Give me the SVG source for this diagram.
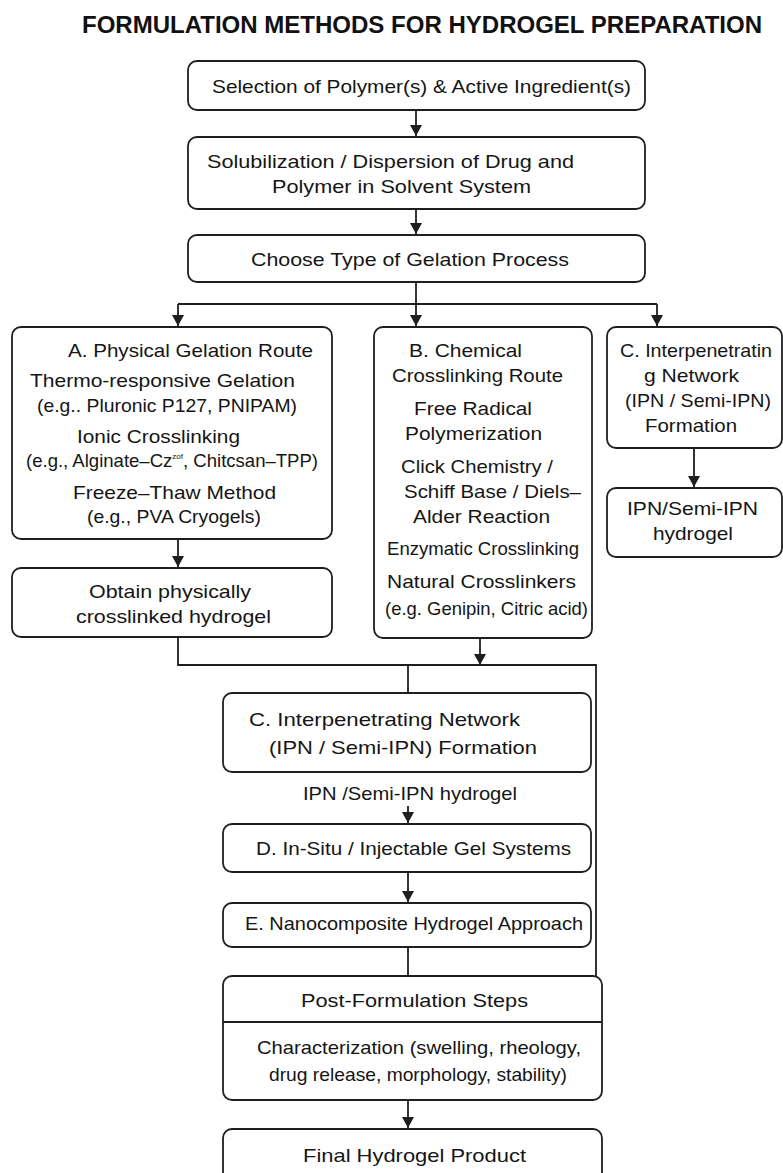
<svg xmlns="http://www.w3.org/2000/svg" width="783" height="1173" viewBox="0 0 783 1173">
<style>
.bg{fill:#ffffff}
.box{fill:#ffffff;stroke:#1e1e1e;stroke-width:1.8}
.t{font-family:"Liberation Sans",Arial,sans-serif;font-size:18.5px;fill:#151515}
.tb{font-family:"Liberation Sans",Arial,sans-serif;font-size:24px;font-weight:bold;fill:#111}
.c{fill:none;stroke:#1e1e1e;stroke-width:1.8}
</style>
<defs>
<marker id="ah" markerUnits="userSpaceOnUse" markerWidth="12" markerHeight="12" refX="11" refY="6" orient="auto">
<path d="M0,0 L11,6 L0,12 z" fill="#1e1e1e"/>
</marker>
</defs>
<rect class="bg" x="0" y="0" width="783" height="1173"/>
<text class="tb" x="82" y="33" textLength="680" lengthAdjust="spacingAndGlyphs">FORMULATION METHODS FOR HYDROGEL PREPARATION</text>

<g id="connectors">
<path class="c" d="M416 110 V136" marker-end="url(#ah)"/>
<path class="c" d="M416 209 V234" marker-end="url(#ah)"/>
<path class="c" d="M416 282 V304 M178 304 H657"/>
<path class="c" d="M178 304 V326" marker-end="url(#ah)"/>
<path class="c" d="M416 304 V326" marker-end="url(#ah)"/>
<path class="c" d="M657 304 V326" marker-end="url(#ah)"/>
<path class="c" d="M178 539 V567" marker-end="url(#ah)"/>
<path class="c" d="M694 448 V487" marker-end="url(#ah)"/>
<path class="c" d="M178 637 V665 H596 V976"/>
<path class="c" d="M480 638 V665" marker-end="url(#ah)"/>
<path class="c" d="M408 665 V693"/>
<path class="c" d="M408 806 V823" marker-end="url(#ah)"/>
<path class="c" d="M408 872 V902" marker-end="url(#ah)"/>
<path class="c" d="M408 947 V976"/>
<path class="c" d="M408 1100 V1128" marker-end="url(#ah)"/>
</g>

<g id="n1">
<rect class="box" x="188" y="61" width="457" height="49" rx="9"/>
<text class="t" x="212" y="93" font-size="20" textLength="419" lengthAdjust="spacingAndGlyphs">Selection of Polymer(s) &amp; Active Ingredient(s)</text>
</g>
<g id="n2">
<rect class="box" x="188" y="137" width="457" height="72" rx="9"/>
<text class="t" x="207" y="168" font-size="20" textLength="367" lengthAdjust="spacingAndGlyphs">Solubilization / Dispersion of Drug and</text>
<text class="t" x="272" y="193" font-size="20" textLength="259" lengthAdjust="spacingAndGlyphs">Polymer in Solvent System</text>
</g>
<g id="n3">
<rect class="box" x="188" y="235" width="457" height="47" rx="9"/>
<text class="t" x="251" y="266" font-size="20" textLength="318" lengthAdjust="spacingAndGlyphs">Choose Type of Gelation Process</text>
</g>

<g id="nA">
<rect class="box" x="12" y="327" width="320" height="212" rx="9"/>
<text class="t" x="68" y="357" textLength="245" lengthAdjust="spacingAndGlyphs">A. Physical Gelation Route</text>
<text class="t" x="30" y="387" textLength="265" lengthAdjust="spacingAndGlyphs">Thermo-responsive Gelation</text>
<text class="t" x="37" y="412" textLength="260" lengthAdjust="spacingAndGlyphs">(e.g.. Pluronic P127, PNIPAM)</text>
<text class="t" x="77" y="443" textLength="163" lengthAdjust="spacingAndGlyphs">Ionic Crosslinking</text>
<text class="t" x="26" y="467" textLength="292" lengthAdjust="spacingAndGlyphs">(e.g., Alginate–Cz<tspan font-size="8" dy="-8">zof</tspan><tspan dy="8">, Chitcsan–TPP)</tspan></text>
<text class="t" x="73" y="499" textLength="203" lengthAdjust="spacingAndGlyphs">Freeze–Thaw Method</text>
<text class="t" x="87" y="523" textLength="174" lengthAdjust="spacingAndGlyphs">(e.g., PVA Cryogels)</text>
</g>
<g id="nA2">
<rect class="box" x="12" y="568" width="320" height="69" rx="9"/>
<text class="t" x="89" y="598" textLength="162" lengthAdjust="spacingAndGlyphs">Obtain physically</text>
<text class="t" x="76" y="623" textLength="195" lengthAdjust="spacingAndGlyphs">crosslinked hydrogel</text>
</g>

<g id="nB">
<rect class="box" x="374" y="327" width="218" height="311" rx="9"/>
<text class="t" x="409" y="357" textLength="113" lengthAdjust="spacingAndGlyphs">B. Chemical</text>
<text class="t" x="392" y="382" textLength="171" lengthAdjust="spacingAndGlyphs">Crosslinking Route</text>
<text class="t" x="414" y="415" textLength="118" lengthAdjust="spacingAndGlyphs">Free Radical</text>
<text class="t" x="405" y="440" textLength="137" lengthAdjust="spacingAndGlyphs">Polymerization</text>
<text class="t" x="401" y="473" textLength="152" lengthAdjust="spacingAndGlyphs">Click Chemistry /</text>
<text class="t" x="404" y="498" textLength="177" lengthAdjust="spacingAndGlyphs">Schiff Base / Diels–</text>
<text class="t" x="413" y="523" textLength="137" lengthAdjust="spacingAndGlyphs">Alder Reaction</text>
<text class="t" x="387" y="555" font-size="17.5" textLength="192" lengthAdjust="spacingAndGlyphs">Enzymatic Crosslinking</text>
<text class="t" x="387" y="588" textLength="189" lengthAdjust="spacingAndGlyphs">Natural Crosslinkers</text>
<text class="t" x="385" y="615" font-size="17.5" textLength="203" lengthAdjust="spacingAndGlyphs">(e.g. Genipin, Citric acid)</text>
</g>

<g id="nC">
<rect class="box" x="607" y="327" width="175" height="121" rx="9"/>
<text class="t" x="620" y="357" textLength="152" lengthAdjust="spacingAndGlyphs">C. Interpenetratin</text>
<text class="t" x="644" y="382" textLength="95" lengthAdjust="spacingAndGlyphs">g Network</text>
<text class="t" x="625" y="407" textLength="146" lengthAdjust="spacingAndGlyphs">(IPN / Semi-IPN)</text>
<text class="t" x="645" y="432" textLength="92" lengthAdjust="spacingAndGlyphs">Formation</text>
</g>
<g id="nC2">
<rect class="box" x="607" y="488" width="175" height="69" rx="9"/>
<text class="t" x="627" y="515" textLength="131" lengthAdjust="spacingAndGlyphs">IPN/Semi-IPN</text>
<text class="t" x="653" y="540" textLength="80" lengthAdjust="spacingAndGlyphs">hydrogel</text>
</g>

<g id="nCmid">
<rect class="box" x="223" y="693" width="368" height="79" rx="9"/>
<text class="t" x="249" y="726" font-size="19.5" textLength="271" lengthAdjust="spacingAndGlyphs">C. Interpenetrating Network</text>
<text class="t" x="269" y="754" font-size="19.5" textLength="268" lengthAdjust="spacingAndGlyphs">(IPN / Semi-IPN) Formation</text>
</g>
<g id="lblIPN">
<text class="t" x="303" y="800" font-size="17.5" textLength="214" lengthAdjust="spacingAndGlyphs">IPN /Semi-IPN hydrogel</text>
</g>
<g id="nD">
<rect class="box" x="223" y="824" width="368" height="48" rx="9"/>
<text class="t" x="256" y="855" font-size="19.5" textLength="315" lengthAdjust="spacingAndGlyphs">D. In-Situ / Injectable Gel Systems</text>
</g>
<g id="nE">
<rect class="box" x="223" y="903" width="368" height="44" rx="9"/>
<text class="t" x="245" y="930" font-size="19.5" textLength="338" lengthAdjust="spacingAndGlyphs">E. Nanocomposite Hydrogel Approach</text>
</g>
<g id="nPost">
<rect class="box" x="223" y="976" width="379" height="124" rx="9"/>
<line class="c" x1="223" y1="1022" x2="602" y2="1022"/>
<text class="t" x="301" y="1007" font-size="21" textLength="227" lengthAdjust="spacingAndGlyphs">Post-Formulation Steps</text>
<text class="t" x="257" y="1054" font-size="19.5" textLength="324" lengthAdjust="spacingAndGlyphs">Characterization (swelling, rheology,</text>
<text class="t" x="269" y="1081" font-size="19.5" textLength="298" lengthAdjust="spacingAndGlyphs">drug release, morphology, stability)</text>
</g>
<g id="nFinal">
<rect class="box" x="223" y="1129" width="379" height="70" rx="9"/>
<text class="t" x="303" y="1162" font-size="21" textLength="223" lengthAdjust="spacingAndGlyphs">Final Hydrogel Product</text>
</g>
</svg>
